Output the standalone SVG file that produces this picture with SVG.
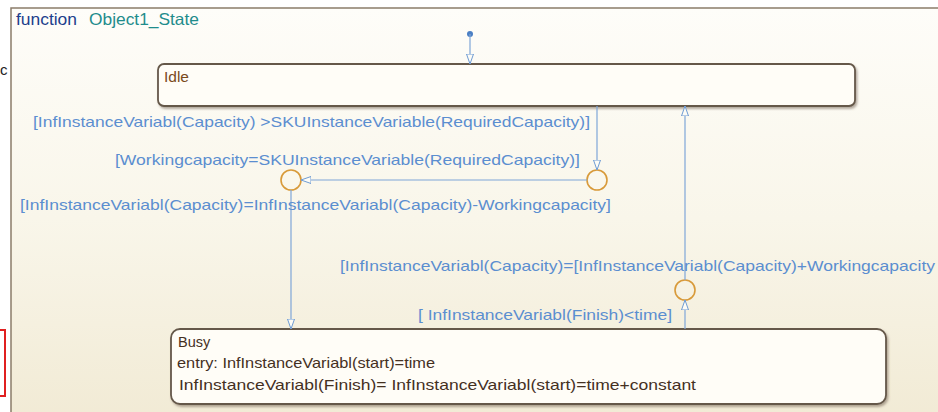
<svg xmlns="http://www.w3.org/2000/svg" width="938" height="412" viewBox="0 0 938 412">
  <defs>
    <linearGradient id="chartBg" x1="0" y1="0" x2="0" y2="1">
      <stop offset="0" stop-color="#fefdf9"/>
      <stop offset="0.5" stop-color="#f9f6ea"/>
      <stop offset="1" stop-color="#f1ead4"/>
    </linearGradient>
    <filter id="shadow" x="-5%" y="-20%" width="110%" height="150%">
      <feDropShadow dx="1.5" dy="2" stdDeviation="1.2" flood-color="#6b5a48" flood-opacity="0.5"/>
    </filter>
    <marker id="openArrow" viewBox="0 0 10 10" refX="10" refY="5" markerWidth="10" markerHeight="10" markerUnits="userSpaceOnUse" orient="auto">
      <path d="M0,1.5 L10,5 L0,8.5 Z" fill="#fdfcf6" stroke="#6e9bd3" stroke-width="1"/>
    </marker>
  </defs>
  <style>
    .frame { fill: url(#chartBg); stroke: #8a7c6a; stroke-width: 1.5; }
    .state { fill: #fffdf7; stroke: #65584a; stroke-width: 1.8; filter: url(#shadow); }
    .junction { fill: none; stroke: #d89a3a; stroke-width: 1.6; }
    .wire { fill: none; stroke: #7fa6d8; stroke-width: 1.2; marker-end: url(#openArrow); }
    .label { font-family: "Liberation Sans", Arial, sans-serif; font-size: 14.5px; fill: #5b8ed0; }
    .stext { font-family: "Liberation Sans", Arial, sans-serif; font-size: 14.5px; fill: #45301f; }
  </style>

  <!-- page background and chart frame -->
  <rect x="0" y="0" width="938" height="412" fill="#ffffff"/>
  <rect class="frame" x="11" y="8" width="940" height="420"/>
  <text x="0" y="75" font-family="Liberation Sans, Arial, sans-serif" font-size="15" fill="#222">c</text>
  <rect x="-4" y="330" width="9" height="66" fill="none" stroke="#e02020" stroke-width="2"/>

  <!-- chart title -->
  <text x="16" y="25" font-family="Liberation Sans, Arial, sans-serif" font-size="16.5"><tspan fill="#1d3f8c" textLength="61" lengthAdjust="spacingAndGlyphs">function</tspan><tspan x="89" fill="#1f8c8c" textLength="110" lengthAdjust="spacingAndGlyphs">Object1_State</tspan></text>

  <!-- states -->
  <g id="idle">
    <rect class="state" x="158" y="64" width="697" height="42" rx="6"/>
    <text x="164" y="82" font-family="Liberation Sans, Arial, sans-serif" font-size="15.5" fill="#7a4a1c">Idle</text>
  </g>
  <g id="busy">
    <rect class="state" x="171" y="329" width="715" height="75" rx="9"/>
    <text class="stext" x="178" y="347">Busy</text>
    <text class="stext" x="177" y="368" textLength="258" lengthAdjust="spacingAndGlyphs">entry: InfInstanceVariabl(start)=time</text>
    <text class="stext" x="179" y="390" textLength="517" lengthAdjust="spacingAndGlyphs"> InfInstanceVariabl(Finish)= InfInstanceVariabl(start)=time+constant</text>
  </g>

  <!-- junctions -->
  <g id="junction-split"><circle class="junction" cx="597" cy="180" r="10"/></g>
  <g id="junction-assign"><circle class="junction" cx="291" cy="180" r="10"/></g>
  <g id="junction-return"><circle class="junction" cx="685" cy="290" r="10"/></g>

  <!-- transitions -->
  <g id="connectors">
    <circle cx="470" cy="34" r="3" fill="#4a7fc4"/>
    <path class="wire" d="M470,34 V64"/>
    <path class="wire" d="M597,106 V170"/>
    <path class="wire" d="M587,180 H301"/>
    <path class="wire" d="M291,190 V329"/>
    <path class="wire" d="M685,329 V300"/>
    <path class="wire" d="M685,280 V106"/>
  </g>

  <!-- transition labels -->
  <g id="labels">
    <text class="label" x="33" y="127" textLength="557" lengthAdjust="spacingAndGlyphs">[InfInstanceVariabl(Capacity) &gt;SKUInstanceVariable(RequiredCapacity)]</text>
    <text class="label" x="115" y="165" textLength="465" lengthAdjust="spacingAndGlyphs">[Workingcapacity=SKUInstanceVariable(RequiredCapacity)]</text>
    <text class="label" x="20" y="210" textLength="591" lengthAdjust="spacingAndGlyphs">[InfInstanceVariabl(Capacity)=InfInstanceVariabl(Capacity)-Workingcapacity]</text>
    <text class="label" x="340" y="271" textLength="595" lengthAdjust="spacingAndGlyphs">[InfInstanceVariabl(Capacity)=[InfInstanceVariabl(Capacity)+Workingcapacity</text>
    <text class="label" x="418" y="320" textLength="254" lengthAdjust="spacingAndGlyphs">[ InfInstanceVariabl(Finish)&lt;time]</text>
  </g>
</svg>
